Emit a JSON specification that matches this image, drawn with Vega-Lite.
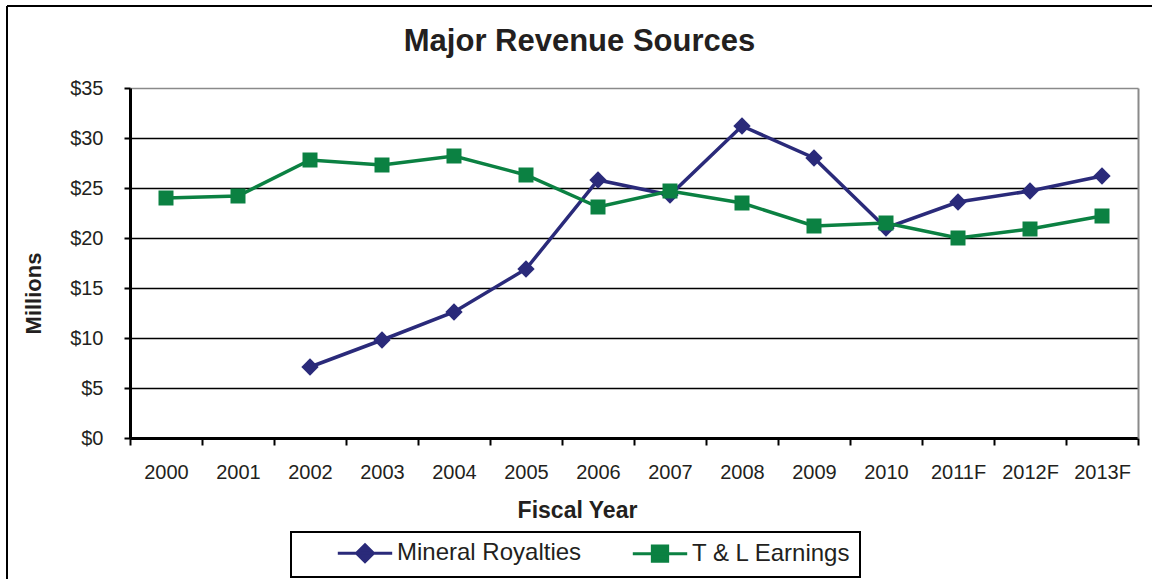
{
  "$schema": "https://vega.github.io/schema/vega-lite/v6.json",
  "autosize": {"type": "none"},
  "width": 1145,
  "height": 573,
  "padding": {"left": 7, "top": 6, "right": 0, "bottom": 0},
  "background": "white",
  "title": {"text": "Major Revenue Sources", "anchor": "middle", "frame": "group", "fontSize": 31, "font": "Liberation Sans", "fontWeight": "bold", "color": "#231f20", "offset": -52},
  "config": {"view": {"stroke": "black", "strokeWidth": 2, "strokeDash": [1145, 1718, 573, 0]}, "font": "Liberation Sans"},
  "data": {"values": [
    {"year": "2000", "series": "T & L Earnings", "value": 24.0},
    {"year": "2001", "series": "T & L Earnings", "value": 24.2},
    {"year": "2002", "series": "T & L Earnings", "value": 27.8},
    {"year": "2003", "series": "T & L Earnings", "value": 27.3},
    {"year": "2004", "series": "T & L Earnings", "value": 28.2},
    {"year": "2005", "series": "T & L Earnings", "value": 26.3},
    {"year": "2006", "series": "T & L Earnings", "value": 23.1},
    {"year": "2007", "series": "T & L Earnings", "value": 24.7},
    {"year": "2008", "series": "T & L Earnings", "value": 23.5},
    {"year": "2009", "series": "T & L Earnings", "value": 21.2},
    {"year": "2010", "series": "T & L Earnings", "value": 21.5},
    {"year": "2011F", "series": "T & L Earnings", "value": 20.0},
    {"year": "2012F", "series": "T & L Earnings", "value": 20.9},
    {"year": "2013F", "series": "T & L Earnings", "value": 22.2},
    {"year": "2002", "series": "Mineral Royalties", "value": 7.1},
    {"year": "2003", "series": "Mineral Royalties", "value": 9.8},
    {"year": "2004", "series": "Mineral Royalties", "value": 12.6},
    {"year": "2005", "series": "Mineral Royalties", "value": 16.9},
    {"year": "2006", "series": "Mineral Royalties", "value": 25.8},
    {"year": "2007", "series": "Mineral Royalties", "value": 24.3},
    {"year": "2008", "series": "Mineral Royalties", "value": 31.2},
    {"year": "2009", "series": "Mineral Royalties", "value": 28.0},
    {"year": "2010", "series": "Mineral Royalties", "value": 21.0},
    {"year": "2011F", "series": "Mineral Royalties", "value": 23.6},
    {"year": "2012F", "series": "Mineral Royalties", "value": 24.7},
    {"year": "2013F", "series": "Mineral Royalties", "value": 26.2}
  ]},
  "encoding": {
    "x": {
      "field": "year", "type": "nominal",
      "sort": ["2000","2001","2002","2003","2004","2005","2006","2007","2008","2009","2010","2011F","2012F","2013F"],
      "scale": {"type": "band", "range": [123, 1131], "paddingInner": 0, "paddingOuter": 0},
      "axis": {
        "orient": "bottom", "offset": -141, "labelAngle": 0,
        "domainColor": "black", "domainWidth": 3,
        "tickColor": "black", "tickWidth": 2, "tickSize": 7, "tickBand": "extent",
        "labelFont": "Liberation Sans", "labelFontSize": 20, "labelColor": "#231f20", "labelPadding": 17,
        "grid": false,
        "title": "Fiscal Year", "titleFont": "Liberation Sans", "titleFontSize": 23, "titleFontWeight": "bold", "titleColor": "#231f20",
        "titleX": 570, "titleY": 72, "titleAlign": "center", "titleBaseline": "middle"
      }
    }
  },
  "layer": [
    {
      "transform": [{"filter": "datum.series === 'Mineral Royalties'"}],
      "mark": {"type": "line", "strokeWidth": 3.5, "color": "#2a2a7a"},
      "encoding": {
        "y": {"field": "value", "type": "quantitative",
          "scale": {"domain": [0, 35], "range": [432, 82], "nice": false, "zero": true},
          "axis": {
            "orient": "left", "offset": -123, "values": [0,5,10,15,20,25,30,35],
            "labelExpr": "'$' + datum.value",
            "domainColor": "black", "domainWidth": 3,
            "tickColor": "black", "tickWidth": 2, "tickSize": 6,
            "labelFont": "Liberation Sans", "labelFontSize": 20, "labelColor": "#231f20", "labelPadding": 21,
            "grid": true, "gridWidth": 1.5,
            "gridColor": {"condition": {"test": "datum.value === 35", "value": "#8a8a8a"}, "value": "black"},
            "title": "Millions", "titleFont": "Liberation Sans", "titleFontSize": 22, "titleFontWeight": "bold", "titleColor": "#231f20",
            "titleX": -97, "titleY": 287, "titleAngle": 270, "titleAlign": "center", "titleBaseline": "middle"
          }
        }
      }
    },
    {
      "transform": [{"filter": "datum.series === 'Mineral Royalties'"}],
      "mark": {"type": "point", "shape": "diamond", "filled": true, "opacity": 1, "size": 300, "color": "#2a2a7a"},
      "encoding": {
        "y": {"field": "value", "type": "quantitative",
          "scale": {"domain": [0, 35], "range": [432, 82], "nice": false, "zero": true},
          "axis": {"orient": "right", "offset": -14, "labels": false, "ticks": false, "grid": false, "title": null, "domainColor": "#8a8a8a", "domainWidth": 2}
        }
      }
    },
    {
      "transform": [{"filter": "datum.series === 'T & L Earnings'"}],
      "mark": {"type": "line", "strokeWidth": 3.5, "color": "#0b8142"},
      "encoding": {
        "y": {"field": "value", "type": "quantitative",
          "scale": {"domain": [0, 35], "range": [432, 82], "nice": false, "zero": true},
          "axis": null
        }
      }
    },
    {
      "transform": [{"filter": "datum.series === 'T & L Earnings'"}],
      "mark": {"type": "point", "shape": "square", "filled": true, "opacity": 1, "size": 225, "color": "#0b8142"},
      "encoding": {
        "y": {"field": "value", "type": "quantitative",
          "scale": {"domain": [0, 35], "range": [432, 82], "nice": false, "zero": true},
          "axis": null
        }
      }
    },
    {
      "mark": {"type": "point", "filled": true, "strokeWidth": 3, "size": 289, "opacity": 0},
      "encoding": {
        "y": {"field": "value", "type": "quantitative",
          "scale": {"domain": [0, 35], "range": [432, 82], "nice": false, "zero": true},
          "axis": null
        },
        "fill": {"field": "series", "type": "nominal",
          "scale": {"domain": ["Mineral Royalties", "T & L Earnings"], "range": ["#2a2a7a", "#0b8142"]},
          "legend": {"orient": "none", "legendX": 284, "legendY": 526, "direction": "horizontal", "title": null,
            "strokeColor": "black", "padding": 9, "symbolSize": 289, "symbolOpacity": 1, "symbolOffset": 53, "labelOffset": 20,
            "columnPadding": 13, "symbolStrokeWidth": 3, "labelLimit": 400,
            "labelExpr": "datum.label + (datum.value === 'T & L Earnings' ? '\u00a0\u00a0\u00a0\u00a0\u00a0' : '')",
            "labelFont": "Liberation Sans", "labelFontSize": 24, "labelColor": "#231f20",
            "encoding": {
              "symbols": {
                "shape": {"condition": {"test": "datum.value === 'Mineral Royalties'", "value": "M-3.2,0H3.2M0,-1L1,0L0,1L-1,0Z"}, "value": "M-3.2,0H3.2M-0.9,-0.9H0.9V0.9H-0.9Z"},
                "stroke": {"condition": {"test": "datum.value === 'Mineral Royalties'", "value": "#2a2a7a"}, "value": "#0b8142"},
                "strokeWidth": {"value": 3}
              },
              "legend": {"strokeWidth": {"value": 2}}
            }
          }
        }
      }
    }
  ],
  "resolve": {"axis": {"y": "independent"}}
}
